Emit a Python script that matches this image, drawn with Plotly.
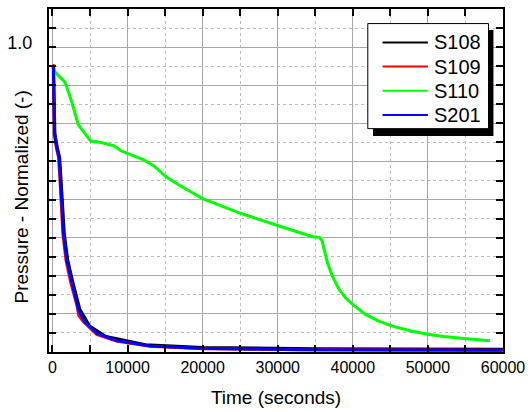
import plotly.graph_objects as go

# ---- data (time in seconds, normalized pressure) ----
s108_t = [0, 150, 230, 330, 650, 960, 1230, 1400, 1570, 2030, 2720, 3650, 4950, 7140, 12380, 20000, 35000, 60000]
s108_v = [0.933, 0.933, 0.823, 0.715, 0.670, 0.637, 0.530, 0.465, 0.390, 0.302, 0.228, 0.140, 0.0855, 0.051, 0.0237, 0.015, 0.011, 0.009]

s109_t = [0, 100, 170, 250, 520, 820, 1080, 1230, 1380, 1800, 2430, 3300, 3500, 4100, 5900, 8500, 13000, 20000, 35000, 60000]
s109_v = [0.940, 0.940, 0.823, 0.715, 0.670, 0.637, 0.530, 0.465, 0.390, 0.302, 0.228, 0.150, 0.120, 0.100, 0.058, 0.036, 0.019, 0.011, 0.007, 0.006]

s110_t = [0, 157, 367, 1677, 2555, 3432, 5083, 6485, 8227, 9105, 12158, 13468, 15223, 16966, 20018, 25049, 30067,
          34666, 35544, 35885, 36199, 36632, 37287, 38165, 39030, 40131, 41652, 43408, 45151, 47772, 49961,
          52136, 54758, 58257]
s110_v = [0.933, 0.931, 0.917, 0.885, 0.822, 0.746, 0.692, 0.687, 0.676, 0.660, 0.630, 0.611, 0.573, 0.546, 0.503, 0.455, 0.414,
          0.378, 0.376, 0.367, 0.335, 0.292, 0.248, 0.205, 0.178, 0.153, 0.124, 0.102, 0.0855, 0.069, 0.0585,
          0.051, 0.0445, 0.037]

s201_t = [0, 131, 197, 288, 590, 891, 1153, 1310, 1467, 1900, 2555, 3432, 4297, 6053, 8673, 13035, 19586, 32687, 59937]
s201_v = [0.933, 0.933, 0.823, 0.715, 0.670, 0.637, 0.530, 0.465, 0.390, 0.302, 0.228, 0.140, 0.098, 0.059, 0.037, 0.020, 0.012, 0.0075, 0.0055]

series_names = ["S108", "S109", "S110", "S201"]
series_colors = ["#000000", "#ff0000", "#00ff00", "#0000ff"]
series_t = [s108_t, s109_t, s110_t, s201_t]
series_v = [s108_v, s109_v, s110_v, s201_v]

x_tickvals = [0, 10000, 20000, 30000, 40000, 50000, 60000]
x_ticktext = ["0", "10000", "20000", "30000", "40000", "50000", "60000"]
y_tickvals = [0, 0.125, 0.25, 0.375, 0.5, 0.625, 0.75, 0.875, 1.0, 1.125]
y_ticktext = ["", "", "", "", "", "", "", "", "1.0", ""]

FONT = "Liberation Sans, Arial, sans-serif"

fig = go.Figure()
for name, col, t, v in zip(series_names, series_colors, series_t, series_v):
    fig.add_trace(go.Scatter(x=t, y=v, mode="lines", name=name,
                             line=dict(color=col, width=3), showlegend=False))

W, H = 532, 412
ml, mr, mt, mb = 47, 24, 7, 59
pw, ph = W - ml - mr, H - mt - mb

def px(xp):
    return (xp - ml) / pw

def py(yp):
    return (H - mb - yp) / ph

axis_common = dict(showline=True, linecolor="black", linewidth=2, mirror="allticks",
                   ticks="inside", ticklen=7, tickwidth=2, tickcolor="black",
                   showgrid=True, gridcolor="#a8a8a8", gridwidth=1, zeroline=False)

fig.update_xaxes(range=[-460, 60000], tickmode="array", tickvals=x_tickvals, ticktext=x_ticktext,
                 tickfont=dict(family=FONT, size=16, color="black"),
                 minor=dict(dtick=5000, tick0=0, showgrid=True, griddash="dot", gridcolor="#bdbdbd",
                            ticks="inside", ticklen=7, tickwidth=2, tickcolor="black"),
                 title=dict(text="Time (seconds)", font=dict(family=FONT, size=19, color="black"), standoff=15),
                 **axis_common)
fig.update_yaxes(range=[0, 1.125], tickmode="array", tickvals=y_tickvals, ticktext=y_ticktext,
                 tickfont=dict(family=FONT, size=18, color="black"),
                 ticklabelstandoff=11, ticklabelshift=-4,
                 minor=dict(dtick=0.0625, tick0=0, showgrid=True, griddash="dot", gridcolor="#bdbdbd",
                            ticks="inside", ticklen=7, tickwidth=2, tickcolor="black"),
                 **axis_common)

# manual legend with shadow
shapes = [
    dict(type="rect", xref="paper", yref="paper", x0=px(376), x1=px(498.3), y0=py(135), y1=py(28.3),
         fillcolor="black", line=dict(width=0), layer="above"),
    dict(type="rect", xref="paper", yref="paper", x0=px(370.7), x1=px(493.3), y0=py(127.7), y1=py(21.7),
         fillcolor="white", line=dict(color="black", width=1), layer="above"),
]
annotations = []
for i, (name, col) in enumerate(zip(series_names, series_colors)):
    yc = 40.7 + i * 24.4
    shapes.append(dict(type="line", xref="paper", yref="paper", x0=px(385.7), x1=px(431.7),
                       y0=py(yc), y1=py(yc), line=dict(color=col, width=2), layer="above"))
    annotations.append(dict(xref="paper", yref="paper", x=px(436), y=py(yc), text=name, showarrow=False,
                            xanchor="left", yanchor="middle", font=dict(family=FONT, size=20, color="black")))

annotations.append(dict(xref="paper", yref="paper", x=px(19), y=py(196.7), text="Pressure - Normalized (-)",
                        textangle=-90, showarrow=False, xanchor="center", yanchor="middle",
                        font=dict(family=FONT, size=19, color="black")))

fig.update_layout(width=W, height=H, margin=dict(l=ml, r=mr, t=mt, b=mb),
                  paper_bgcolor="white", plot_bgcolor="white",
                  shapes=shapes, annotations=annotations, showlegend=False)

fig.write_html("out.html")
